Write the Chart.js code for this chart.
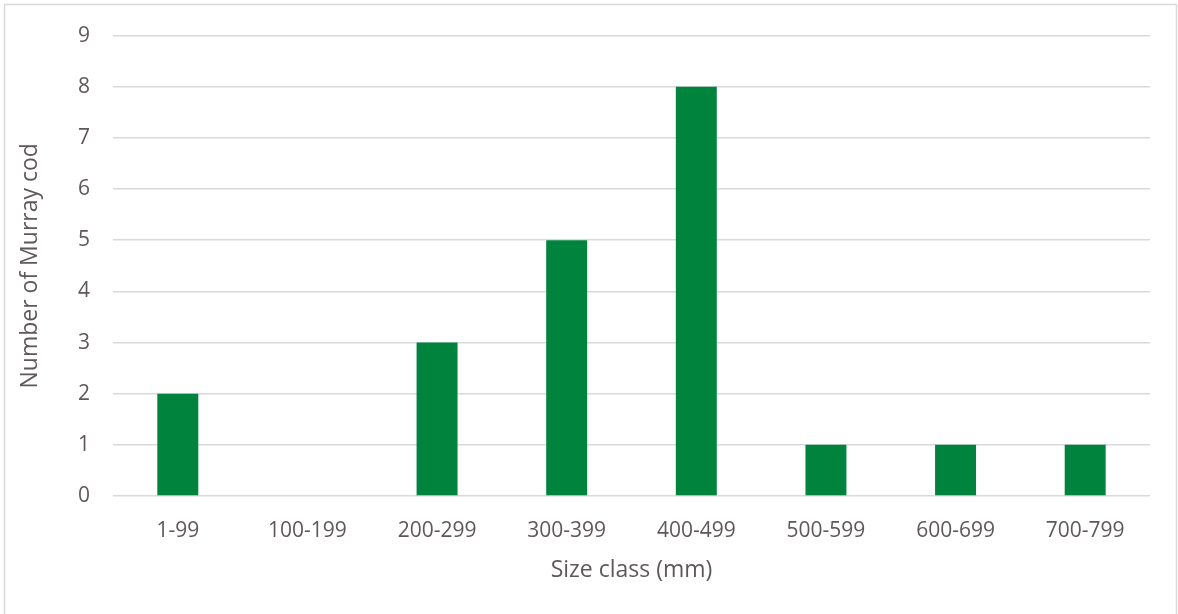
<!DOCTYPE html>
<html>
<head>
<meta charset="utf-8">
<script src="https://cdn.jsdelivr.net/npm/chart.js@4.4.1/dist/chart.umd.min.js"></script>
<style>
  html, body { margin: 0; padding: 0; background: #fff; }
  #wrap { position: relative; width: 1178px; height: 614px; }
</style>
</head>
<body>
<div id="wrap"><canvas id="sizeChart"></canvas></div>
<script>
const sizeClasses = ['1-99', '100-199', '200-299', '300-399', '400-499', '500-599', '600-699', '700-799'];
const codCounts = [2, 0, 3, 5, 8, 1, 1, 1];
const yTicks = [0, 1, 2, 3, 4, 5, 6, 7, 8, 9];

const textColor = '#5f5859';
const gridColor = '#d9d9d9';
const fontFamily = '"Open Sans", sans-serif';

// light frame around the whole chart
const frame = {
  id: 'frame',
  beforeDraw(chart) {
    const c = chart.ctx;
    c.save();
    c.strokeStyle = '#d9d9d9';
    c.lineWidth = 1.5;
    c.strokeRect(4.5, 4.5, chart.width - 6, chart.height + 10);
    c.restore();
  }
};

new Chart(document.getElementById('sizeChart').getContext('2d'), {
  type: 'bar',
  data: {
    labels: sizeClasses,
    datasets: [{
      label: 'Number of Murray cod',
      data: codCounts,
      backgroundColor: '#00843d',
      categoryPercentage: 1,
      barPercentage: 0.316
    }]
  },
  options: {
    responsive: true,
    maintainAspectRatio: false,
    animation: false,
    layout: { padding: { top: 34, right: 28, left: 0, bottom: 0 } },
    plugins: {
      legend: { display: false },
      tooltip: { enabled: false }
    },
    scales: {
      x: {
        grid: { display: false },
        border: { display: false },
        ticks: {
          color: textColor,
          font: { family: fontFamily, size: 21 },
          padding: 14,
          maxRotation: 0
        },
        title: {
          display: true,
          text: 'Size class (mm)',
          color: textColor,
          font: { family: fontFamily, size: 23 },
          padding: { top: 0, bottom: 30 }
        },
        afterFit(scale) { scale.height = 118; }
      },
      y: {
        min: 0,
        max: 9,
        afterBuildTicks(scale) { scale.ticks = yTicks.map(v => ({ value: v })); },
        grid: { color: gridColor, lineWidth: 1.5, drawTicks: false },
        border: { display: false },
        ticks: {
          color: textColor,
          font: { family: fontFamily, size: 21 },
          padding: 23
        },
        title: {
          display: true,
          text: 'Number of Murray cod',
          color: textColor,
          font: { family: fontFamily, size: 23 },
          padding: { top: 17, bottom: 0 }
        },
        afterFit(scale) { scale.width = 113; }
      }
    }
  },
  plugins: [frame]
});
</script>
</body>
</html>
